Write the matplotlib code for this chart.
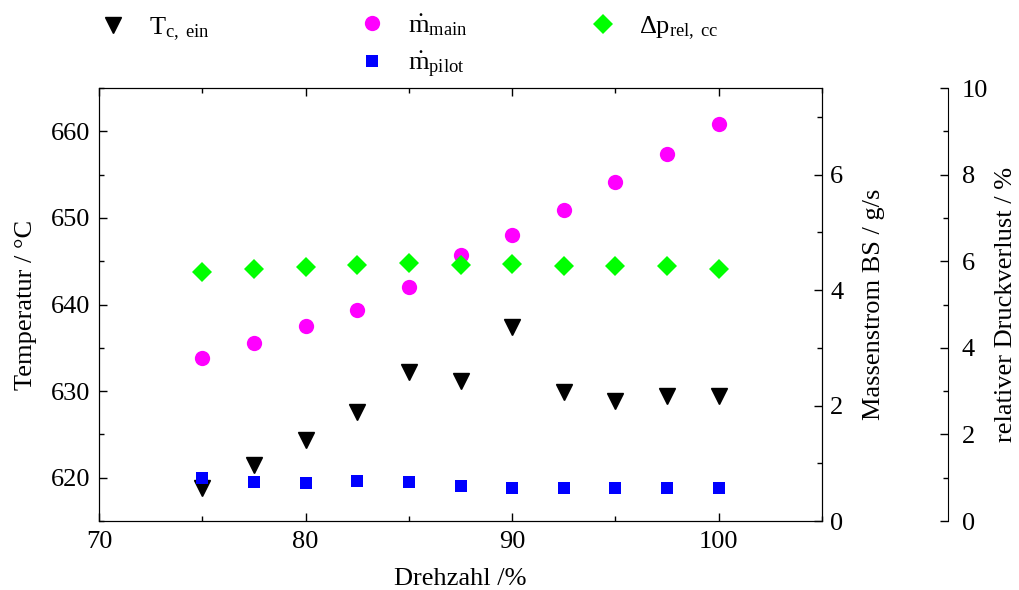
import matplotlib
matplotlib.use('Agg')
import matplotlib.pyplot as plt
from matplotlib.ticker import MultipleLocator

plt.rcParams['font.family'] = ['Liberation Serif', 'DejaVu Serif']
plt.rcParams['mathtext.fontset'] = 'stix'
plt.rcParams['mathtext.default'] = 'regular'
plt.rcParams['font.size'] = 19

drehzahl = [75, 77.5, 80, 82.5, 85, 87.5, 90, 92.5, 95, 97.5, 100]
t_c_ein = [618.8, 621.5, 624.3, 627.6, 632.2, 631.2, 637.4, 629.9, 628.9, 629.4, 629.4]
m_main = [2.82, 3.08, 3.37, 3.65, 4.05, 4.60, 4.95, 5.38, 5.87, 6.36, 6.87]
m_pilot = [0.74, 0.68, 0.66, 0.69, 0.67, 0.61, 0.58, 0.58, 0.57, 0.57, 0.58]
dp_rel = [5.76, 5.82, 5.87, 5.92, 5.96, 5.92, 5.94, 5.90, 5.88, 5.88, 5.82]

fig = plt.figure(figsize=(10.19, 5.9), dpi=100)
ax = fig.add_axes([0.0972, 0.1169, 0.7095, 0.7339])
ax2 = ax.twinx()
ax3 = ax.twinx()
ax3.spines['right'].set_position(('outward', 90.7))
for s in ['left', 'top', 'bottom']:
    ax3.spines[s].set_visible(False)

l1, = ax.plot(drehzahl, t_c_ein, 'v', color='black', markersize=12, label=r'T$_{c,\ ein}$')
l2, = ax2.plot(drehzahl, m_main, 'o', color='#ff00ff', markersize=11, markeredgewidth=0,
               label=r'$\dot{m}_{main}$')
l3, = ax2.plot(drehzahl, m_pilot, 's', color='#0000ff', markersize=9, markeredgewidth=0,
               label=r'$\dot{m}_{pilot}$')
l4, = ax3.plot(drehzahl, dp_rel, 'D', color='#00ff00', markersize=10, markeredgewidth=0,
               label=r'Δp$_{rel,\ cc}$')

ax.set_xlim(70, 105)
ax.set_ylim(615, 665)
ax2.set_ylim(0, 7.5)
ax3.set_ylim(0, 10)

ax.xaxis.set_major_locator(MultipleLocator(10))
ax.xaxis.set_minor_locator(MultipleLocator(5))
ax.yaxis.set_major_locator(MultipleLocator(10))
ax.yaxis.set_minor_locator(MultipleLocator(5))
ax2.yaxis.set_major_locator(MultipleLocator(2))
ax2.yaxis.set_minor_locator(MultipleLocator(1))
ax3.yaxis.set_major_locator(MultipleLocator(2))
ax3.yaxis.set_minor_locator(MultipleLocator(1))

ax.tick_params(axis='x', which='both', direction='in', top=True, pad=7)
ax.tick_params(axis='y', which='both', direction='in', pad=6)
ax2.tick_params(axis='y', which='both', direction='in', pad=6)
ax3.tick_params(axis='y', which='both', direction='in', pad=10)
for a in [ax, ax2, ax3]:
    a.tick_params(which='major', length=6, width=1)
    a.tick_params(which='minor', length=3.5, width=1)

ax.set_xlabel('Drehzahl /%', labelpad=11)
ax.set_ylabel('Temperatur / °C', labelpad=10)
ax2.set_ylabel('Massenstrom BS / g/s', labelpad=14)
ax3.set_ylabel('relativer Druckverlust / %', labelpad=5)

# three separate legend blocks at the top
leg_kw = dict(loc='upper left', frameon=False, handlelength=1.0, handletextpad=0.85,
              labelspacing=0.45, borderpad=0, borderaxespad=0)
fig.legend([l1], [l1.get_label()], bbox_to_anchor=(0.098, 0.974), **leg_kw)
fig.legend([l2, l3], [l2.get_label(), l3.get_label()], bbox_to_anchor=(0.352, 0.979), **leg_kw)
fig.legend([l4], [l4.get_label()], bbox_to_anchor=(0.579, 0.976), **leg_kw)

fig.savefig('out.png', dpi=100)
